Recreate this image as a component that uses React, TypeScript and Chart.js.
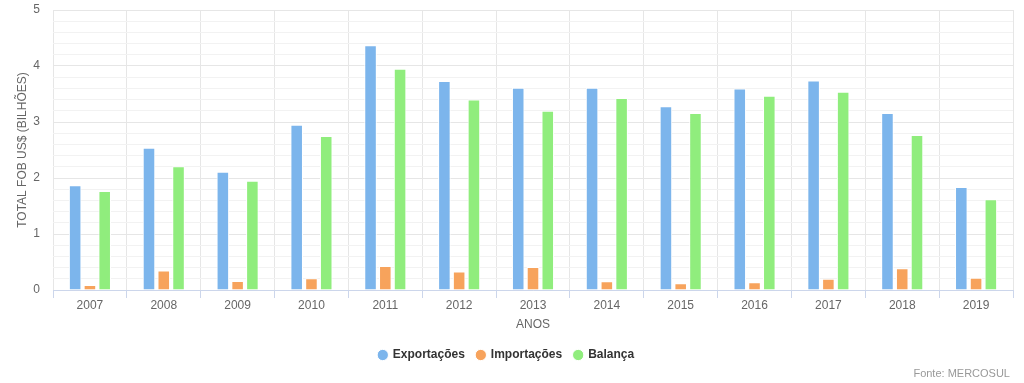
import React, { useEffect, useRef } from 'react';
import { Chart, registerables } from 'chart.js';

Chart.register(...registerables);

const categories = ['2007', '2008', '2009', '2010', '2011', '2012', '2013', '2014', '2015', '2016', '2017', '2018', '2019'];
const exportacoes = [1.87, 2.54, 2.11, 2.95, 4.37, 3.73, 3.61, 3.61, 3.28, 3.6, 3.74, 3.16, 1.84];
const importacoes = [0.09, 0.35, 0.16, 0.21, 0.43, 0.33, 0.41, 0.155, 0.12, 0.14, 0.2, 0.39, 0.22];
const balanca = [1.77, 2.21, 1.95, 2.75, 3.95, 3.4, 3.2, 3.43, 3.16, 3.47, 3.54, 2.77, 1.62];
const seriesNames = ['Exportações', 'Importações', 'Balança'];
const yTitle = 'TOTAL FOB US$ (BILHÕES)';
const xTitle = 'ANOS';
const credit = 'Fonte: MERCOSUL';

const FONT = '"Liberation Sans", Arial, Helvetica, sans-serif';
const isMajor = (v: number) => Math.abs(v - Math.round(v)) < 1e-6;

export default function App() {
  const ref = useRef<HTMLCanvasElement | null>(null);

  useEffect(() => {
    if (!ref.current) return;
    Chart.defaults.font.family = FONT;
    const colors = ['#7cb5ec', '#f7a35c', '#90ed7d'];
    const values = [exportacoes, importacoes, balanca];
    const chart = new Chart(ref.current, {
      type: 'bar',
      data: {
        labels: categories,
        datasets: values.map((d, i) => ({
          label: seriesNames[i],
          data: d,
          backgroundColor: colors[i],
          borderColor: '#ffffff',
          borderWidth: 1,
          categoryPercentage: 0.6,
          barPercentage: 0.85,
        })),
      },
      options: {
        animation: false,
        responsive: true,
        maintainAspectRatio: false,
        layout: { padding: { top: 10, right: 11, bottom: 12, left: 0 } },
        plugins: {
          tooltip: { enabled: false },
          legend: {
            position: 'bottom',
            labels: {
              usePointStyle: true,
              pointStyle: 'circle',
              boxWidth: 8,
              boxHeight: 8,
              padding: 12,
              color: '#333333',
              font: { size: 12, weight: 'bold', family: FONT },
            },
          },
        },
        scales: {
          x: {
            afterFit: (s: any) => { s.height = 47; },
            grid: {
              color: '#e6e6e6',
              tickColor: '#ccd6eb',
              tickLength: 8,
              offset: true,
            },
            border: { color: '#ccd6eb', width: 1 },
            ticks: { color: '#666666', padding: 0, font: { size: 12, family: FONT } },
            title: {
              display: true,
              text: xTitle,
              color: '#666666',
              font: { size: 12, family: FONT },
              padding: { top: 0, bottom: 5 },
            },
          },
          y: {
            min: 0,
            max: 5,
            afterFit: (s: any) => { s.width = 53; s.paddingTop = 0; s.paddingBottom = 0; },
            border: { display: false },
            grid: {
              drawTicks: false,
              color: (ctx: any) => (isMajor(ctx.tick.value) ? '#e6e6e6' : '#f2f2f2'),
            },
            ticks: {
              stepSize: 0.2,
              autoSkip: false,
              padding: 13,
              color: '#666666',
              font: { size: 12, family: FONT },
              callback: (v: any) => (isMajor(Number(v)) ? String(Math.round(Number(v))) : ''),
            },
            title: {
              display: true,
              text: yTitle,
              color: '#666666',
              font: { size: 12, family: FONT },
              padding: { top: 15, bottom: 0 },
            },
          },
        },
      },
    });
    return () => chart.destroy();
  }, []);

  return (
    <div style={{ position: 'absolute', left: 0, top: 0, width: 1024, height: 383, background: '#ffffff' }}>
      <canvas ref={ref} />
      <div
        style={{
          position: 'absolute',
          right: 14,
          top: 366,
          fontFamily: FONT,
          fontSize: 11,
          color: '#999999',
          lineHeight: '14px',
        }}
      >
        {credit}
      </div>
    </div>
  );
}
